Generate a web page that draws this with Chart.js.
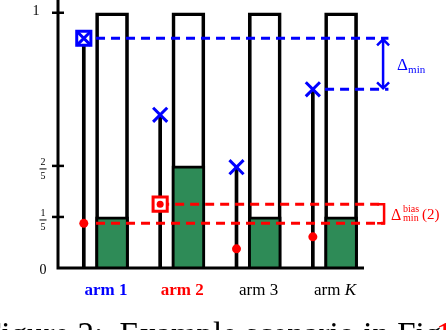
<!DOCTYPE html>
<html>
<head>
<meta charset="utf-8">
<script src="https://cdn.jsdelivr.net/npm/chart.js@4/dist/chart.umd.min.js"></script>
<style>
  body { margin: 0; background: #fff; }
  canvas { display: block; }
</style>
</head>
<body>
<canvas id="chartCanvas" width="446" height="330"></canvas>
<script>
// arms and what is known about them
const armNames = ['arm 1', 'arm 2', 'arm 3', 'arm K'];
const armPos = [1, 2, 3, 4];
const barTop = [1, 1, 1, 1];
const trueMeans = [0.2, 0.4, 0.2, 0.2];          // green part of each bar
const upperEst = [0.9, 0.6, 0.395, 0.7];         // blue crosses, top of each stem
const biasEst = [0.175, 0.25, 0.075, 0.122];     // red dots
const yTicks = [0, 0.2, 0.4, 1];
const yTickLabels = ['0', '1/5', '2/5', '1'];
const bestUpper = 0;   // arm whose blue mark is boxed
const bestBias = 1;    // arm whose red mark is boxed

const BLUE = '#0000ff';
const RED = '#ff0000';
const GREEN = '#2e8b57';
const SERIF = '"Liberation Serif", "DejaVu Serif", serif';

const xMin = 0.292, xMax = 4.30, yMax = 1.05;
const stemShift = 0.37;     // stem sits left of its bar
const halfBar = 0.21;
const annX = 4.55;          // arrow / bracket column
const blueEnd = 4.62, redEnd = 4.575;

function pts(xs, ys) {
  return xs.map((x, i) => ({ x: x, y: ys[i] }));
}
function hline(y, x0, x1) {
  return [{ x: x0, y: y }, { x: x1, y: y }];
}
function dashed(data, color) {
  return {
    type: 'line', data: data, borderColor: color, borderWidth: 3,
    borderDash: [9, 6], pointRadius: 0, fill: false, clip: false
  };
}

const stemX = armPos.map(p => p - stemShift);

const datasets = [
  { // blue crosses
    type: 'line', showLine: false, data: pts(stemX, upperEst),
    pointStyle: 'crossRot', pointRadius: 10, pointBorderWidth: 3,
    pointBorderColor: BLUE, clip: false
  },
  { // red dots
    type: 'line', showLine: false, data: pts(stemX, biasEst),
    pointStyle: 'circle', pointRadius: biasEst.map((_, i) => i === bestBias ? 3.5 : 4.5),
    pointBorderWidth: 0, pointBackgroundColor: RED, clip: false
  },
  { // boxes round the chosen marks
    type: 'line', showLine: false,
    data: [{ x: stemX[bestUpper], y: upperEst[bestUpper] }, { x: stemX[bestBias], y: biasEst[bestBias] }],
    pointStyle: 'rect', pointRadius: 10, pointBorderWidth: 3,
    pointBorderColor: [BLUE, RED], pointBackgroundColor: '#fff', clip: false
  },
  dashed(hline(upperEst[bestUpper], armPos[0] - halfBar, blueEnd), BLUE),
  dashed(hline(upperEst[3], armPos[3] - halfBar, blueEnd), BLUE),
  dashed(hline(biasEst[bestBias], stemX[bestBias], redEnd), RED),
  dashed(hline(biasEst[0], armPos[0] - halfBar, redEnd), RED),
  { // stems
    type: 'bar', data: pts(stemX, upperEst), backgroundColor: '#000',
    borderWidth: 0, barThickness: 3, grouped: false
  },
  { // true means
    type: 'bar', data: pts(armPos, trueMeans), backgroundColor: GREEN,
    borderColor: '#000', borderWidth: 3, barThickness: 33, grouped: false
  },
  { // arm outlines
    type: 'bar', data: pts(armPos, barTop), backgroundColor: 'rgba(0,0,0,0)',
    borderColor: '#000', borderWidth: 3, barThickness: 33, grouped: false,
    borderSkipped: 'start'
  }
];

function drawFraction(ctx, label, cx, cy) {
  const parts = label.split('/');
  if (parts.length < 2) {
    ctx.font = '14px ' + SERIF;
    ctx.fillText(label, cx, cy);
    return;
  }
  ctx.font = '10px ' + SERIF;
  ctx.fillText(parts[0], cx, cy - 6);
  ctx.fillText(parts[1], cx, cy + 8);
  ctx.fillRect(cx - 3.5, cy + 0.5, 7, 1);
}

const annotate = {
  id: 'annotate',
  afterDatasetsDraw(chart) {
    const { ctx, scales: { x, y } } = chart;
    const x0 = x.getPixelForValue(xMin);
    const y0 = y.getPixelForValue(0);
    ctx.save();
    ctx.strokeStyle = '#000';
    ctx.lineWidth = 3;
    ctx.beginPath();
    ctx.moveTo(x0, y.getPixelForValue(yMax));
    ctx.lineTo(x0, y0);
    ctx.lineTo(x.getPixelForValue(xMax), y0);
    ctx.stroke();

    // y ticks
    ctx.lineWidth = 2.5;
    ctx.fillStyle = '#000';
    ctx.textAlign = 'center';
    ctx.textBaseline = 'middle';
    yTicks.forEach((v, i) => {
      const py = y.getPixelForValue(v);
      if (v > 0) {
        ctx.beginPath();
        ctx.moveTo(x0 - 6, py);
        ctx.lineTo(x0 + 6, py);
        ctx.stroke();
      }
      const lx = v === 1 ? 36 : 43;
      const ly = v === 1 ? py - 1 : py + 2;
      drawFraction(ctx, yTickLabels[i], lx, ly);
    });

    // arm labels
    ctx.textAlign = 'left';
    ctx.textBaseline = 'alphabetic';
    const colors = [BLUE, RED, '#000', '#000'];
    armNames.forEach((name, i) => {
      const weight = i === bestUpper || i === bestBias ? 'bold ' : '';
      const words = name.split(' ');
      const last = words.pop();
      const head = words.join(' ') + ' ';
      const italic = /[A-Za-z]/.test(last) ? 'italic ' : '';
      ctx.fillStyle = colors[i];
      ctx.font = weight + '17px ' + SERIF;
      const w1 = ctx.measureText(head).width;
      ctx.font = italic + weight + '17px ' + SERIF;
      const w2 = ctx.measureText(last).width;
      const cx = x.getPixelForValue(armPos[i] - 0.08);
      const left = cx - (w1 + w2) / 2;
      ctx.font = weight + '17px ' + SERIF;
      ctx.fillText(head, left, 295);
      ctx.font = italic + weight + '17px ' + SERIF;
      ctx.fillText(last, left + w1, 295);
    });

    // double arrow for the gap
    const ax = x.getPixelForValue(annX);
    const ya = y.getPixelForValue(upperEst[bestUpper]);
    const yb = y.getPixelForValue(upperEst[3]);
    ctx.strokeStyle = BLUE;
    ctx.lineWidth = 2.5;
    ctx.beginPath();
    ctx.moveTo(ax, ya + 1);
    ctx.lineTo(ax, yb - 1);
    ctx.moveTo(ax - 6, ya + 7);
    ctx.lineTo(ax, ya + 1);
    ctx.lineTo(ax + 6, ya + 7);
    ctx.moveTo(ax - 6, yb - 7);
    ctx.lineTo(ax, yb - 1);
    ctx.lineTo(ax + 6, yb - 7);
    ctx.stroke();
    ctx.fillStyle = BLUE;
    ctx.font = '17px ' + SERIF;
    const ym = (ya + yb) / 2;
    ctx.fillText('\u0394', ax + 14, ym + 6);
    ctx.font = '11px ' + SERIF;
    ctx.fillText('min', ax + 25, ym + 9);

    // bracket for the bias gap
    const yc = y.getPixelForValue(biasEst[bestBias]);
    const yd = y.getPixelForValue(biasEst[0]);
    ctx.strokeStyle = RED;
    ctx.lineWidth = 2.5;
    ctx.beginPath();
    ctx.moveTo(ax - 6, yc);
    ctx.lineTo(ax + 1, yc);
    ctx.lineTo(ax + 1, yd);
    ctx.lineTo(ax - 6, yd);
    ctx.stroke();
    ctx.fillStyle = RED;
    const yr = (yc + yd) / 2;
    ctx.font = '16px ' + SERIF;
    ctx.fillText('\u0394', ax + 8, yr + 6);
    ctx.font = '10px ' + SERIF;
    ctx.fillText('bias', ax + 20, yr - 2);
    ctx.fillText('min', ax + 20, yr + 7);
    ctx.font = '15px ' + SERIF;
    ctx.fillText('(2)', ax + 39, yr + 5);

    // caption, cut by the bottom edge
    ctx.fillStyle = '#000';
    ctx.font = '33px ' + SERIF;
    const cap = 'Figure 2:  Example scenario in Fig';
    ctx.fillText(cap, -17, 345);
    ctx.fillStyle = RED;
    ctx.fillText('1', 436, 345);
    ctx.restore();
  }
};

new Chart(document.getElementById('chartCanvas').getContext('2d'), {
  type: 'bar',
  data: { datasets: datasets },
  options: {
    responsive: false,
    animation: false,
    events: [],
    layout: { autoPadding: false, padding: { left: 58, right: 82, top: 0, bottom: 62 } },
    plugins: { legend: { display: false }, tooltip: { enabled: false } },
    scales: {
      x: { type: 'linear', min: xMin, max: xMax, offset: false, display: false },
      y: { min: 0, max: yMax, display: false }
    }
  },
  plugins: [annotate]
});
</script>
</body>
</html>
